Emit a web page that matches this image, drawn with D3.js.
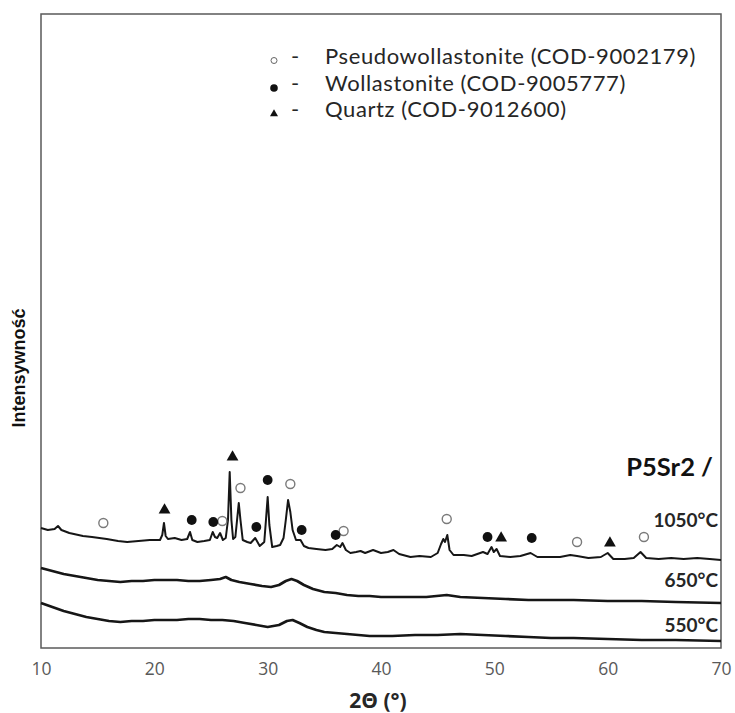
<!DOCTYPE html>
<html>
<head>
<meta charset="utf-8">
<script src="https://cdn.jsdelivr.net/npm/d3@7"></script>
<style>
  html, body { margin: 0; padding: 0; background: #fff; }
  svg { display: block; }
</style>
</head>
<body>
<svg id="chart" width="735" height="713"></svg>
<script>
// XRD patterns of P5Sr2 after firing at three temperatures, [2θ (°), intensity (a.u.)]
const scan1050 = [
  [10.0,120],[10.6,118],[11.2,119],[11.5,122],[11.8,118],[12.5,115],[13.7,112],[14.5,111],
  [15.8,109],[16.8,107],[17.6,106],[18.6,107],[19.6,108],[20.5,108],[20.7,113],[20.85,125],
  [21.0,112],[21.2,109],[21.8,110],[22.4,108],[22.9,109],[23.15,116],[23.35,108],[23.8,106],
  [24.4,107],[24.9,108],[25.15,116],[25.35,111],[25.55,110],[25.8,115],[26.05,108],[26.3,110],
  [26.5,128],[26.65,176],[26.8,128],[26.95,109],[27.15,111],[27.3,128],[27.45,145],[27.6,128],
  [27.8,108],[28.2,106],[28.5,105],[28.9,110],[29.3,102],[29.7,106],[29.85,128],[30.0,151],
  [30.15,123],[30.4,101],[30.8,102],[31.1,103],[31.4,110],[31.6,128],[31.8,148],[32.0,136],
  [32.2,118],[32.5,108],[32.9,108],[33.2,102],[33.6,100],[34.3,99],[35.1,98],[35.7,99],
  [36.1,103],[36.4,101],[36.6,105],[36.9,98],[37.3,95],[37.8,96],[38.2,97],[38.6,95],
  [39.3,98],[40.0,95],[40.6,96],[41.1,98],[41.6,94],[42.6,91],[43.4,92],[44.4,91],
  [45.0,95],[45.3,104],[45.5,109],[45.65,106],[45.85,113],[46.05,98],[46.4,93],[47.3,93],
  [48.0,92],[48.5,94],[49.0,96],[49.4,94],[49.75,101],[49.95,96],[50.2,99],[50.5,92],
  [51.4,91],[52.3,92],[53.2,95],[53.8,91],[54.8,91],[55.8,91],[56.7,93],[57.3,92],
  [58.3,90],[59.4,91],[60.0,95],[60.5,89],[61.5,89],[62.3,90],[62.9,96],[63.4,90],
  [64.5,89],[65.6,90],[66.7,89],[67.9,90],[69.0,89],[70.0,88]
];
const scan650 = [
  [10,80],[11,77],[12,74],[13,72],[14,70],[15,68],[16,67],[17,66],[18,67],[19,67],[20,68],
  [21,68],[22,68],[23,67],[24,67],[25,68],[25.8,69],[26.3,71],[26.8,68],[27.5,66],[28.5,64],
  [29.5,62],[30.3,61],[31.0,63],[31.6,67],[32.1,69],[32.6,67],[33.2,63],[34.0,59],[35.0,56],
  [36.0,55],[37.0,53],[38.0,52],[39.0,52],[40,51],[42,51],[44,51],[45.8,53],[47,51],[49,50],
  [51,49],[53,48],[55,48],[57,48],[60,47],[63,47],[66,46],[70,45]
];
const scan550 = [
  [10,45],[11,41],[12,37],[13,34],[14,31],[15,29],[16,27],[17,26],[18,27],[19,27],[20,28],
  [21,28],[22,28],[23,29],[24,29],[25,28],[26,28],[27,27],[28,25],[29,23],[30,21],[31,23],
  [31.7,27],[32.2,28],[32.8,25],[33.5,21],[34.3,18],[35,16],[36,15],[37,14],[38,13],[39,12],
  [41,12],[43,13],[45,13],[47,14],[49,13],[51,12],[53,11],[55,10],[57,10],[60,9],[63,8],
  [66,8],[70,7]
];

// Phase identification marks above the 1050°C pattern, [2θ (°), intensity (a.u.)]
const pseudowollastonitePeaks = [[15.5,125],[26.0,127],[27.6,160],[32.0,164],[36.7,117],[45.8,129],[57.3,106],[63.2,111]];
const wollastonitePeaks = [[23.3,128],[25.2,126],[29.0,121],[30.0,168],[33.0,118],[36.0,113],[49.4,111],[53.3,110]];
const quartzPeaks = [[20.9,138],[26.9,191],[50.6,110],[60.2,105]];

const xTicks = [10, 20, 30, 40, 50, 60, 70];
const tempLabels = ["1050°C", "650°C", "550°C"];
const tempLabelLevels = [121, 61, 16];
const legendLabels = ["Pseudowollastonite (COD-9002179)", "Wollastonite (COD-9005777)", "Quartz (COD-9012600)"];
const sampleName = "P5Sr2 /";

const svg = d3.select("#chart");
const W = 735, H = 713;
const plot = { left: 41, right: 721, top: 14, bottom: 648 };
const labelFont = "Lato, 'Open Sans', sans-serif";

svg.append("rect").attr("width", W).attr("height", H).attr("fill", "#fff");

const x = d3.scaleLinear().domain([10, 70]).range([plot.left, plot.right]);
const y = d3.scaleLinear().domain([0, 634]).range([plot.bottom, plot.top]);

// Plot frame
svg.append("rect")
  .attr("x", plot.left).attr("y", plot.top)
  .attr("width", plot.right - plot.left).attr("height", plot.bottom - plot.top)
  .attr("fill", "none").attr("stroke", "#5a5a5a").attr("stroke-width", 1.5);

// Bottom axis: labels only, no tick marks
const xAxis = d3.axisBottom(x).tickValues(xTicks).tickSize(0).tickPadding(0).tickFormat(d3.format("d"));
const gx = svg.append("g").attr("transform", `translate(0,${plot.bottom})`).call(xAxis);
gx.select(".domain").remove();
gx.selectAll("text")
  .attr("dy", null).attr("y", 27)
  .attr("fill", "#595959")
  .style("font-family", "'Open Sans', sans-serif").style("font-size", "17.5px");

svg.append("text")
  .attr("x", 378).attr("y", 708).attr("text-anchor", "middle")
  .attr("fill", "#262626")
  .style("font-family", "'Open Sans', sans-serif").style("font-weight", "bold").style("font-size", "21px")
  .text("2Θ (°)");

svg.append("text")
  .attr("transform", "translate(19,368) rotate(-90)")
  .attr("text-anchor", "middle").attr("dominant-baseline", "central")
  .attr("fill", "#111")
  .style("font-family", "'Liberation Sans', Arial, sans-serif").style("font-weight", "bold").style("font-size", "18px")
  .text("Intensywność");

// Diffraction patterns
const line = d3.line().x(d => x(d[0])).y(d => y(d[1]));
const scans = [
  { data: scan550, width: 2.7 },
  { data: scan650, width: 2.7 },
  { data: scan1050, width: 2 }
];
svg.append("g").selectAll("path").data(scans).join("path")
  .attr("d", d => line(d.data))
  .attr("fill", "none").attr("stroke", "#161616")
  .attr("stroke-width", d => d.width).attr("stroke-linejoin", "round");

// Temperature labels
svg.append("g").selectAll("text").data(tempLabels).join("text")
  .attr("x", 718).attr("y", (d, i) => y(tempLabelLevels[i]))
  .attr("text-anchor", "end").attr("fill", "#262626")
  .style("font-family", labelFont).style("font-weight", "bold").style("font-size", "19px")
  .text(d => d);

svg.append("text")
  .attr("x", 713).attr("y", 476).attr("text-anchor", "end").attr("fill", "#111")
  .style("font-family", labelFont).style("font-weight", "bold").style("font-size", "25.5px")
  .text(sampleName);

// Phase marks
const tri = d3.symbol().type(d3.symbolTriangle);
const marks = svg.append("g");
marks.selectAll("circle.pw").data(pseudowollastonitePeaks).join("circle")
  .attr("class", "pw")
  .attr("cx", d => x(d[0])).attr("cy", d => y(d[1])).attr("r", 4.5)
  .attr("fill", "#fff").attr("stroke", "#7a7a7a").attr("stroke-width", 1.4);
marks.selectAll("circle.wo").data(wollastonitePeaks).join("circle")
  .attr("class", "wo")
  .attr("cx", d => x(d[0])).attr("cy", d => y(d[1])).attr("r", 4.9)
  .attr("fill", "#111");
marks.selectAll("path.qz").data(quartzPeaks).join("path")
  .attr("class", "qz")
  .attr("d", tri.size(60))
  .attr("transform", d => `translate(${x(d[0])},${y(d[1])})`)
  .attr("fill", "#111");

// Legend
const legend = svg.append("g");
const legendY = [64, 91, 117];
legend.selectAll("text.lab").data(legendLabels).join("text")
  .attr("class", "lab")
  .attr("x", 325).attr("y", (d, i) => legendY[i])
  .attr("fill", "#262626")
  .style("font-family", labelFont).style("font-size", "22px").style("letter-spacing", "0.6px")
  .text(d => d);
legend.selectAll("text.dash").data(legendLabels).join("text")
  .attr("class", "dash")
  .attr("x", 291).attr("y", (d, i) => legendY[i])
  .attr("fill", "#262626")
  .style("font-family", labelFont).style("font-size", "22px")
  .text("-");
legend.append("circle").attr("cx", 274).attr("cy", legendY[0] - 3.5).attr("r", 3)
  .attr("fill", "#fff").attr("stroke", "#666").attr("stroke-width", 1);
legend.append("circle").attr("cx", 274).attr("cy", legendY[1] - 3).attr("r", 3.8)
  .attr("fill", "#111");
legend.append("path").attr("d", tri.size(28))
  .attr("transform", `translate(274,${legendY[2] - 3})`).attr("fill", "#111");
</script>
</body>
</html>
